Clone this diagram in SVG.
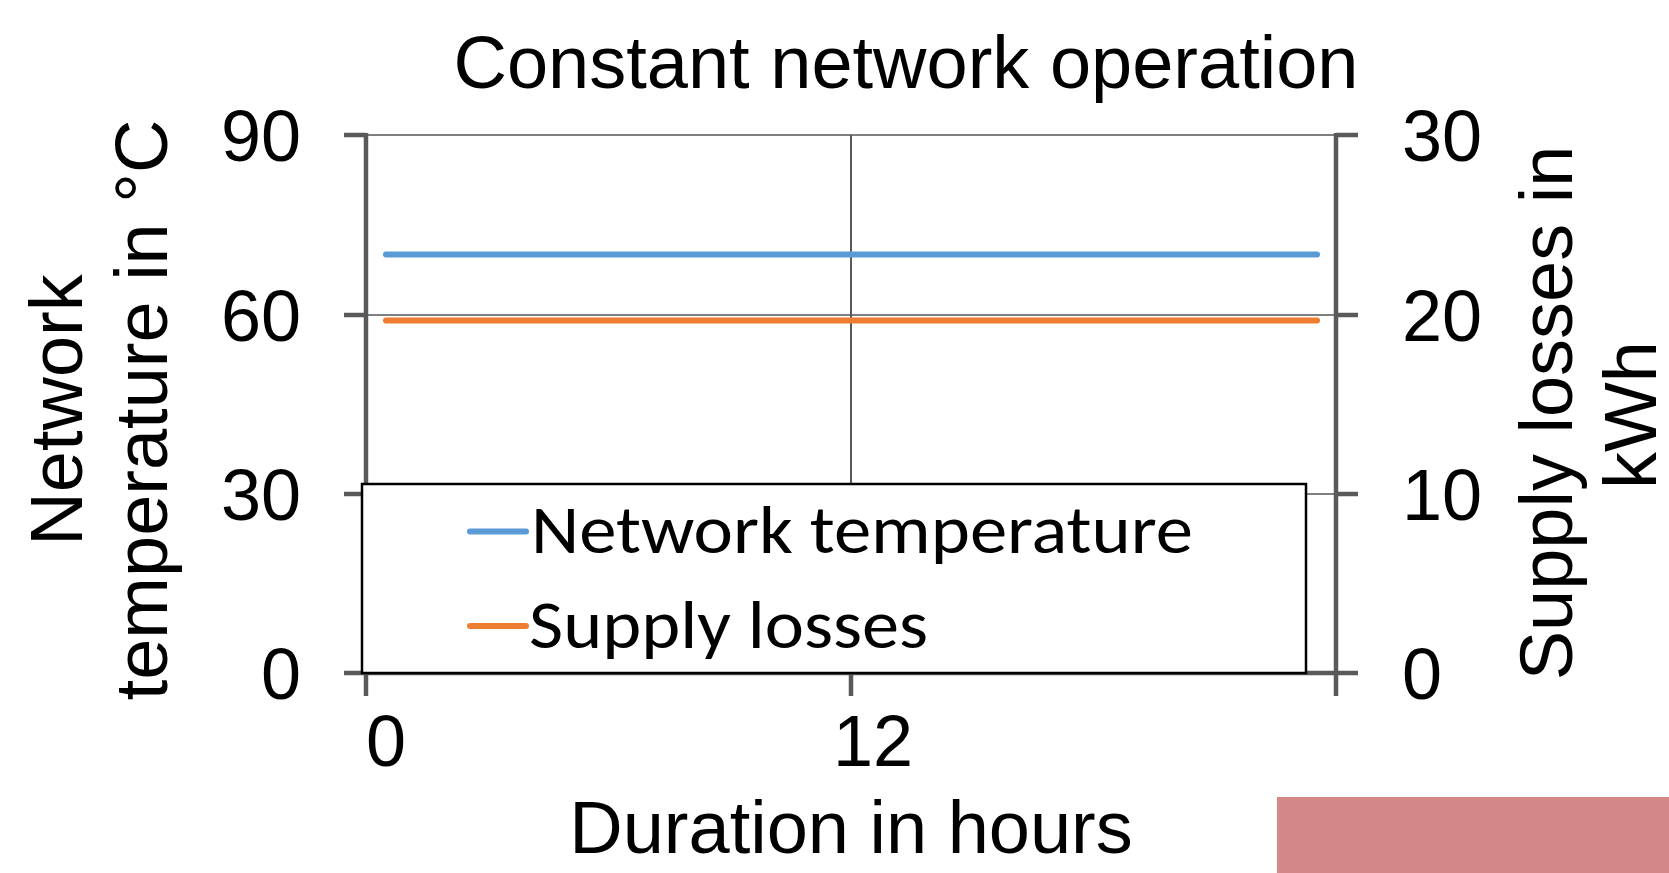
<svg xmlns="http://www.w3.org/2000/svg" width="1669" height="873" viewBox="0 0 1669 873">
  <style>
    .ax { font-family: "Liberation Sans", Arial, sans-serif; font-size: 72px; fill: #000; }
    .ttl { font-family: "Liberation Sans", Arial, sans-serif; font-size: 74px; fill: #000; }
    .leg { font-family: Carlito, Calibri, Lato, sans-serif; font-size: 67px; fill: #000; }
    .grid { stroke: #7f7f7f; stroke-width: 2; fill: none; }
    .vgrid { stroke: #595959; stroke-width: 2; fill: none; }
    .axis { stroke: #595959; stroke-width: 4.5; fill: none; }
    .s1 { stroke: #5b9bd5; stroke-width: 6; stroke-linecap: round; fill: none; }
    .s2 { stroke: #ed7d31; stroke-width: 6; stroke-linecap: round; fill: none; }
  </style>

  <rect width="1669" height="873" fill="#ffffff"/>

  <!-- chart title -->
  <text id="title" class="ttl" x="906" y="88" text-anchor="middle">Constant network operation</text>

  <!-- gridlines -->
  <g id="gridlines">
    <line class="grid" x1="366" y1="135" x2="1336" y2="135"/>
    <line class="grid" x1="366" y1="315" x2="1336" y2="315"/>
    <line class="grid" x1="366" y1="494" x2="1336" y2="494"/>
    <line class="vgrid" x1="851" y1="135" x2="851" y2="673"/>
  </g>

  <!-- axes and tick marks -->
  <g id="axes">
    <line class="axis" x1="366" y1="133" x2="366" y2="696"/>
    <line class="axis" x1="1336" y1="133" x2="1336" y2="696"/>
    <line class="axis" x1="344" y1="673" x2="1358" y2="673"/>
    <line class="axis" x1="851" y1="673" x2="851" y2="696"/>
    <!-- left ticks -->
    <line class="axis" x1="344" y1="135" x2="366" y2="135"/>
    <line class="axis" x1="344" y1="315" x2="366" y2="315"/>
    <line class="axis" x1="344" y1="494" x2="366" y2="494"/>
    <!-- right ticks -->
    <line class="axis" x1="1336" y1="135" x2="1358" y2="135"/>
    <line class="axis" x1="1336" y1="315" x2="1358" y2="315"/>
    <line class="axis" x1="1336" y1="494" x2="1358" y2="494"/>
  </g>

  <!-- data series -->
  <g id="series">
    <line id="series-temperature" class="s1" x1="386" y1="254.6" x2="1317" y2="254.6"/>
    <line id="series-losses" class="s2" x1="386" y1="320.5" x2="1317" y2="320.5"/>
  </g>

  <!-- legend -->
  <g id="legend">
    <rect x="362" y="484" width="944" height="189" fill="#ffffff" stroke="#000000" stroke-width="2.5"/>
    <line class="s1" x1="470" y1="531.5" x2="526" y2="531.5"/>
    <text class="leg" x="531" y="553" textLength="662" lengthAdjust="spacingAndGlyphs">Network temperature</text>
    <line class="s2" x1="470" y1="626" x2="526" y2="626"/>
    <text class="leg" x="529" y="648" textLength="399" lengthAdjust="spacingAndGlyphs">Supply losses</text>
  </g>

  <!-- left axis labels -->
  <g id="left-axis-labels" class="ax" text-anchor="end">
    <text x="301" y="161">90</text>
    <text x="301" y="341">60</text>
    <text x="301" y="520">30</text>
    <text x="301" y="699">0</text>
  </g>

  <!-- right axis labels -->
  <g id="right-axis-labels" class="ax" text-anchor="start">
    <text x="1402" y="161">30</text>
    <text x="1402" y="341">20</text>
    <text x="1402" y="520">10</text>
    <text x="1402" y="699">0</text>
  </g>

  <!-- category axis labels -->
  <g id="x-axis-labels" class="ax" text-anchor="middle">
    <text x="386" y="766">0</text>
    <text x="873" y="766">12</text>
  </g>

  <!-- axis titles -->
  <g id="axis-titles" class="ttl" text-anchor="middle">
    <text transform="translate(82,410) rotate(-90)">Network</text>
    <text transform="translate(167,410) rotate(-90)">temperature in °C</text>
    <text transform="translate(1572,413) rotate(-90)">Supply losses in</text>
    <text transform="translate(1656,415) rotate(-90)">kWh</text>
    <text x="851" y="853">Duration in hours</text>
  </g>

  <!-- corner band -->
  <rect id="corner-band" x="1277" y="797" width="392" height="76" fill="#d38787"/>
</svg>
